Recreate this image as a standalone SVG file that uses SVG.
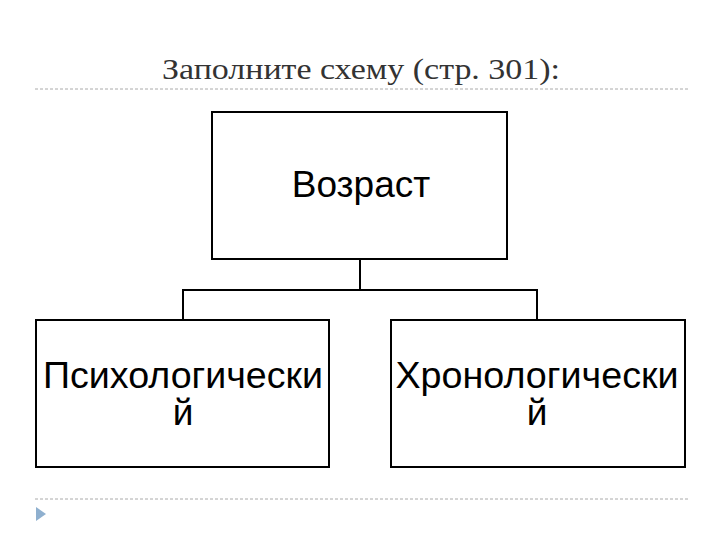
<svg xmlns="http://www.w3.org/2000/svg" width="720" height="540" viewBox="0 0 720 540">
<style>
.box{fill:#fff;stroke:#000;stroke-width:2}
.lbl{font-family:"Liberation Sans",Arial,sans-serif;font-size:37px;fill:#000;text-anchor:middle}
.dash{stroke:#aaa;stroke-width:1;stroke-dasharray:3 2}
.con{fill:none;stroke:#000;stroke-width:2}
</style>
<rect width="720" height="540" fill="#fff"/>
<text x="361" y="79" font-family="'Liberation Serif','DejaVu Serif',serif" font-size="30" fill="#333" text-anchor="middle" textLength="398" lengthAdjust="spacingAndGlyphs">Заполните схему (стр. 301):</text>
<line class="dash" x1="35" y1="89" x2="688" y2="89"/>
<line class="dash" x1="35" y1="499" x2="688" y2="499"/>
<polygon points="36,507 46,514 36,521" fill="#8fb0cf"/>
<g id="connectors">
<path class="con" d="M360,259 V290 M183,290 H537 M183,289 V320 M537,289 V320"/>
</g>
<g id="node-age">
<rect class="box" x="212" y="112" width="295" height="147"/>
<text class="lbl" x="361" y="197">Возраст</text>
</g>
<g id="node-psych">
<rect class="box" x="36" y="320" width="293" height="147"/>
<text class="lbl" x="183" y="388" textLength="280" lengthAdjust="spacingAndGlyphs">Психологически</text>
<text class="lbl" x="183" y="425">й</text>
</g>
<g id="node-chrono">
<rect class="box" x="391" y="320" width="294" height="147"/>
<text class="lbl" x="537" y="388" textLength="283" lengthAdjust="spacingAndGlyphs">Хронологически</text>
<text class="lbl" x="537" y="425">й</text>
</g>
</svg>
